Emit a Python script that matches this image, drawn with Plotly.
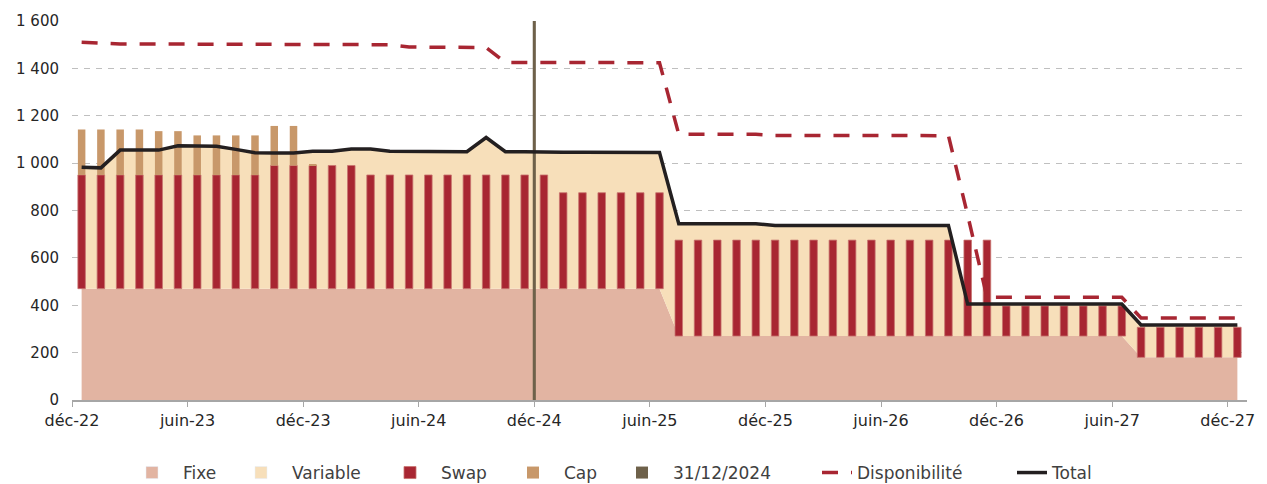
import plotly.graph_objects as go

# ---------------- data (monthly, déc-22 .. déc-27) ----------------
months = ["déc-22", "janv-23", "févr-23", "mars-23", "avr-23", "mai-23", "juin-23", "juil-23", "août-23", "sept-23", "oct-23", "nov-23",
          "déc-23", "janv-24", "févr-24", "mars-24", "avr-24", "mai-24", "juin-24", "juil-24", "août-24", "sept-24", "oct-24", "nov-24",
          "déc-24", "janv-25", "févr-25", "mars-25", "avr-25", "mai-25", "juin-25", "juil-25", "août-25", "sept-25", "oct-25", "nov-25",
          "déc-25", "janv-26", "févr-26", "mars-26", "avr-26", "mai-26", "juin-26", "juil-26", "août-26", "sept-26", "oct-26", "nov-26",
          "déc-26", "janv-27", "févr-27", "mars-27", "avr-27", "mai-27", "juin-27", "juil-27", "août-27", "sept-27", "oct-27", "nov-27",
          "déc-27"]

fixe = [470, 470, 470, 470, 470, 470, 470, 470, 470, 470, 470, 470,
        470, 470, 470, 470, 470, 470, 470, 470, 470, 470, 470, 470,
        470, 470, 470, 470, 470, 470, 470, 270, 270, 270, 270, 270,
        270, 270, 270, 270, 270, 270, 270, 270, 270, 270, 270, 270,
        270, 270, 270, 270, 270, 270, 270, 180, 180, 180, 180, 180,
        180]

variable = [513, 510, 585, 585, 585, 603, 603, 601, 588, 574, 573, 573,
            580, 580, 590, 590, 580, 580, 578, 578, 578, 638, 578, 578,
            576, 576, 576, 575, 575, 575, 575, 474, 474, 474, 474, 474,
            467, 467, 467, 467, 467, 467, 467, 467, 467, 467, 135, 135,
            135, 135, 135, 135, 135, 135, 135, 137, 137, 137, 137, 137,
            137]

swap = [480, 480, 480, 480, 480, 480, 480, 480, 480, 480, 520, 520,
        520, 520, 520, 480, 480, 480, 480, 480, 480, 480, 480, 480,
        480, 405, 405, 405, 405, 405, 405, 405, 405, 405, 405, 405,
        405, 405, 405, 405, 405, 405, 405, 405, 405, 405, 405, 405,
        127, 127, 127, 127, 127, 127, 127, 127, 127, 127, 127, 127,
        127]

cap = [192, 192, 192, 192, 185, 185, 167, 167, 167, 167, 167, 167,
       5, 0, 0, 0, 0, 0, 0, 0, 0, 0, 0, 0,
       0, 0, 0, 0, 0, 0, 0, 0, 0, 0, 0, 0,
       0, 0, 0, 0, 0, 0, 0, 0, 0, 0, 0, 0,
       0, 0, 0, 0, 0, 0, 0, 0, 0, 0, 0, 0,
       0]

disponibilite = [1510, 1506, 1503, 1503, 1503, 1503, 1503, 1502, 1502, 1501, 1501, 1501,
                 1501, 1500, 1500, 1500, 1500, 1490, 1490, 1490, 1489, 1488, 1425, 1425,
                 1425, 1425, 1425, 1424, 1424, 1424, 1424, 1122, 1122, 1122, 1122, 1122,
                 1117, 1117, 1117, 1117, 1117, 1116, 1116, 1116, 1116, 1116, 780, 434,
                 434, 434, 434, 434, 434, 434, 434, 346, 346, 346, 346, 346,
                 346]

total = [983, 980, 1055, 1055, 1055, 1073, 1073, 1071, 1058, 1044, 1043, 1043,
         1050, 1050, 1060, 1060, 1050, 1050, 1048, 1048, 1048, 1108, 1048, 1048,
         1046, 1046, 1046, 1045, 1045, 1045, 1045, 744, 744, 744, 744, 744,
         737, 737, 737, 737, 737, 737, 737, 737, 737, 737, 405, 405,
         405, 405, 405, 405, 405, 405, 405, 317, 317, 317, 317, 317,
         317]

tick_labels = ["déc-22", "juin-23", "déc-23", "juin-24", "déc-24", "juin-25",
               "déc-25", "juin-26", "déc-26", "juin-27", "déc-27"]
marker_label = "31/12/2024"
marker_month = "déc-24"
y_max = 1600

# ---------------- geometry helpers ----------------
xs = [i + 0.5 for i in range(len(months))]          # category centres
tick_pos = [months.index(m) for m in tick_labels]   # ticks on category boundaries
marker_x = months.index(marker_month)
swap_base = fixe
cap_base = [f + s for f, s in zip(fixe, swap)]

C_FIXE = "#E2B4A2"
C_VAR = "#F7DFBA"
C_SWAP = "#A82632"
C_CAP = "#C8986A"
C_MARK = "#6E614A"
C_TOT = "#231F20"
FONT = "DejaVu Sans"
W = 1267
H = 484

fig = go.Figure()

# areas (base subplot, drawn under the bars)
fig.add_trace(go.Scatter(x=xs, y=fixe, name="Fixe", stackgroup="a", mode="lines",
                         line=dict(width=0, color=C_FIXE), fillcolor=C_FIXE,
                         legendgroup="fixe", showlegend=False, hoverinfo="skip"))
fig.add_trace(go.Scatter(x=xs, y=variable, name="Variable", stackgroup="a", mode="lines",
                         line=dict(width=0, color=C_VAR), fillcolor=C_VAR,
                         legendgroup="variable", showlegend=False, hoverinfo="skip"))

# legend proxies (square swatches) for the two areas
fig.add_trace(go.Bar(x=[None], y=[None], name="Fixe", marker_color=C_FIXE,
                     legendgroup="fixe", legend="legend", xaxis="x2", yaxis="y2"))
fig.add_trace(go.Bar(x=[None], y=[None], name="Variable", marker_color=C_VAR,
                     legendgroup="variable", legend="legend2", xaxis="x2", yaxis="y2"))

fig.add_trace(go.Bar(x=xs, y=swap, base=swap_base, name="Swap", width=0.39,
                     marker=dict(color=C_SWAP, line=dict(width=0.8, color="#C8746E")),
                     legend="legend3", xaxis="x2", yaxis="y2"))
fig.add_trace(go.Bar(x=xs, y=cap, base=cap_base, name="Cap", width=0.39,
                     marker=dict(color=C_CAP, line=dict(width=0)),
                     legend="legend4", xaxis="x2", yaxis="y2"))
fig.add_trace(go.Bar(x=[marker_x], y=[y_max], base=[0], name=marker_label, width=0.16,
                     marker=dict(color=C_MARK, line=dict(width=0)),
                     legend="legend5", xaxis="x2", yaxis="y2"))

fig.add_trace(go.Scatter(x=xs, y=disponibilite, name="Disponibilité", mode="lines",
                         line=dict(color=C_SWAP, width=3.5, dash="16px,13px"),
                         legend="legend6", xaxis="x2", yaxis="y2"))
fig.add_trace(go.Scatter(x=xs, y=total, name="Total", mode="lines",
                         line=dict(color=C_TOT, width=3.5),
                         legend="legend7", xaxis="x2", yaxis="y2"))

xr = [0, len(months)]
yr = [0, y_max]

# one legend per entry so each can sit where the reference puts it
legend_left = [121, 230, 379, 502, 611, 817, 1012]
legend_itemw = [52, 52, 52, 52, 52, 30, 30]
legend_cfg = {}
for k, (lx, iw) in enumerate(zip(legend_left, legend_itemw)):
    key = "legend" if k == 0 else f"legend{k + 1}"
    legend_cfg[key] = dict(orientation="h", xref="container", yref="container",
                           x=lx / W, xanchor="left", y=(H - 473) / H, yanchor="middle",
                           font=dict(family=FONT, size=17, color="#404040"),
                           itemwidth=iw, bgcolor="rgba(0,0,0,0)", borderwidth=0)

fig.update_layout(
    width=W, height=H,
    margin=dict(l=72, r=18, t=18, b=84),
    plot_bgcolor="white", paper_bgcolor="white",
    barmode="overlay",
    separators=", ",
    font=dict(family=FONT, size=15, color="#262626"),
    showlegend=True,
    xaxis=dict(range=xr, tickmode="array", tickvals=tick_pos, ticktext=tick_labels,
               showgrid=False, zeroline=False, showline=True, linecolor="#A6A6A6",
               linewidth=1.5, ticks="outside", ticklen=5, tickcolor="#A6A6A6",
               tickfont=dict(size=16, color="#262626")),
    yaxis=dict(range=yr, tickmode="array", tickvals=list(range(0, y_max + 1, 200)),
               showgrid=True, gridcolor="#BFBFBF", griddash="6px,6px", gridwidth=1.2,
               zeroline=False, showline=False, ticks="", ticklabelstandoff=12,
               tickformat=",d", tickfont=dict(size=15, color="#262626")),
    xaxis2=dict(range=xr, overlaying="x", visible=False),
    yaxis2=dict(range=yr, overlaying="y", visible=False),
    **legend_cfg,
)

fig.write_html("out.html", config={"displayModeBar": False},
               post_script="document.body.style.margin='0px';")
